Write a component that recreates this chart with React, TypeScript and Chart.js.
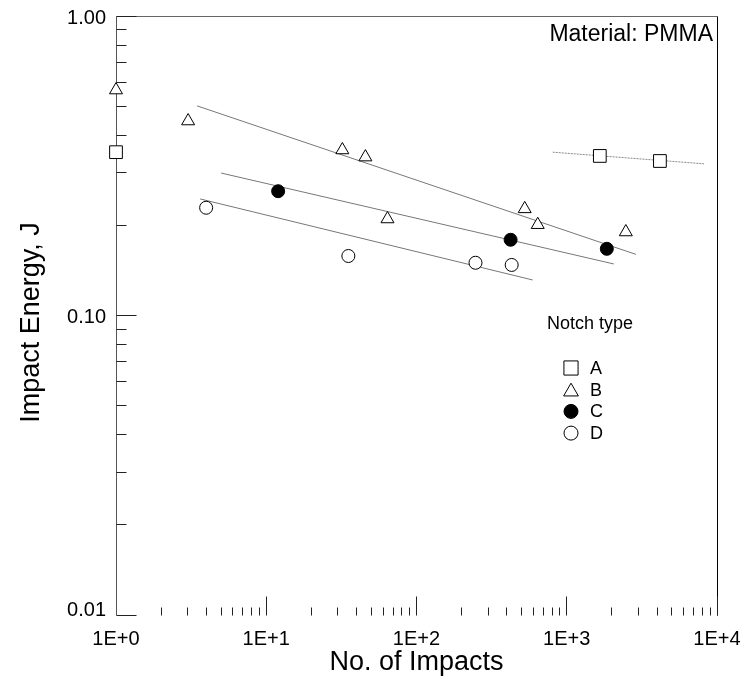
import { useEffect, useRef } from 'react';
import { Chart, registerables } from 'chart.js';

Chart.register(...registerables);

const FONT = '"Liberation Sans", Arial, Helvetica, sans-serif';

// ---- data ----
const notchAImpacts = [1, 1660, 4170];
const notchAEnergy = [0.351, 0.341, 0.328];

const notchBImpacts = [1, 3.02, 32.1, 45.7, 64.1, 525, 641, 2473];
const notchBEnergy = [0.566, 0.446, 0.357, 0.338, 0.21, 0.227, 0.201, 0.19];

const notchCImpacts = [12.0, 423, 1848];
const notchCEnergy = [0.26, 0.179, 0.167];

const notchDImpacts = [3.98, 35.2, 247, 430];
const notchDEnergy = [0.229, 0.158, 0.15, 0.1475];

// fitted trend lines (end points)
const fitAImpacts = [807, 8190];
const fitAEnergy = [0.351, 0.321];
const fitBImpacts = [3.47, 2884];
const fitBEnergy = [0.501, 0.16];
const fitCImpacts = [5.01, 2057];
const fitCEnergy = [0.299, 0.1486];
const fitDImpacts = [3.63, 593];
const fitDEnergy = [0.245, 0.1314];

// axis ticks
const xMajorValues = [1, 10, 100, 1000, 10000];
const xTickLabels = ['1E+0', '1E+1', '1E+2', '1E+3', '1E+4'];
const yMajorValues = [0.01, 0.1, 1];
const yTickLabels = ['0.01', '0.10', '1.00'];
const minorMultipliers = [2, 3, 4, 5, 6, 7, 8, 9];

const legendTitle = 'Notch type';
const legendLabels = ['A', 'B', 'C', 'D'];
const annotationText = 'Material: PMMA';
const xTitle = 'No. of Impacts';
const yTitle = 'Impact Energy, J';

function pts(xs: number[], ys: number[]) {
  return xs.map((x, i) => ({ x, y: ys[i] }));
}

function drawMarker(ctx: CanvasRenderingContext2D, style: string, x: number, y: number, r: number, fill: string) {
  ctx.beginPath();
  if (style === 'rect') {
    const s = Math.SQRT1_2 * r;
    ctx.rect(x - s, y - s, 2 * s, 2 * s);
  } else if (style === 'triangle') {
    let rad = 0;
    ctx.moveTo(x + Math.sin(rad) * r, y - Math.cos(rad) * r);
    rad += (2 * Math.PI) / 3;
    ctx.lineTo(x + Math.sin(rad) * r, y - Math.cos(rad) * r);
    rad += (2 * Math.PI) / 3;
    ctx.lineTo(x + Math.sin(rad) * r, y - Math.cos(rad) * r);
    ctx.closePath();
  } else {
    ctx.arc(x, y, r, 0, Math.PI * 2);
  }
  ctx.fillStyle = fill;
  ctx.fill();
  ctx.strokeStyle = '#000';
  ctx.lineWidth = 1;
  ctx.stroke();
}

const crisp = (v: number) => Math.floor(v) + 0.5;

const framePlugin = {
  id: 'pmmaFrame',
  beforeDatasetsDraw(chart: any) {
    const { ctx, chartArea, scales } = chart;
    const { left, top, right, bottom } = chartArea;
    const xs = scales.x;
    const ys = scales.y;
    const L = crisp(left);
    const R = crisp(right);
    const T = crisp(top);
    const B = crisp(bottom);
    ctx.save();
    ctx.lineWidth = 1;
    // top border
    ctx.strokeStyle = '#666';
    ctx.beginPath();
    ctx.moveTo(L, T);
    ctx.lineTo(R, T);
    ctx.stroke();
    // left axis
    ctx.strokeStyle = '#555';
    ctx.beginPath();
    ctx.moveTo(L, T);
    ctx.lineTo(L, B);
    ctx.stroke();
    // right border
    ctx.strokeStyle = '#000';
    ctx.beginPath();
    ctx.moveTo(R, T);
    ctx.lineTo(R, B);
    ctx.stroke();

    // y ticks (inward)
    ctx.strokeStyle = '#222';
    ctx.beginPath();
    yMajorValues.forEach((v, i) => {
      const py = crisp(ys.getPixelForValue(v));
      ctx.moveTo(L, py);
      ctx.lineTo(L + 20, py);
      if (i < yMajorValues.length - 1) {
        minorMultipliers.forEach((m) => {
          const pm = crisp(ys.getPixelForValue(v * m));
          ctx.moveTo(L, pm);
          ctx.lineTo(L + 10, pm);
        });
      }
    });
    ctx.stroke();

    // x ticks (upward from baseline)
    ctx.beginPath();
    xMajorValues.forEach((v, i) => {
      const px = crisp(xs.getPixelForValue(v));
      if (i > 0) {
        ctx.moveTo(px, B);
        ctx.lineTo(px, B - 19);
      }
      if (i < xMajorValues.length - 1) {
        minorMultipliers.forEach((m) => {
          const pm = crisp(xs.getPixelForValue(v * m));
          ctx.moveTo(pm, B);
          ctx.lineTo(pm, B - 8);
        });
      }
    });
    ctx.stroke();
    ctx.restore();
  },
  afterDraw(chart: any) {
    const { ctx, chartArea, scales } = chart;
    const { left, top, right, bottom } = chartArea;
    const xs = scales.x;
    const ys = scales.y;
    ctx.save();
    ctx.fillStyle = '#000';

    // y tick labels
    ctx.font = `20px ${FONT}`;
    ctx.textAlign = 'right';
    ctx.textBaseline = 'middle';
    yMajorValues.forEach((v, i) => {
      const py = ys.getPixelForValue(v);
      const off = i === 0 ? -5 : 2;
      ctx.fillText(yTickLabels[i], left - 10, py + off);
    });

    // x tick labels
    ctx.textAlign = 'center';
    xMajorValues.forEach((v, i) => {
      const px = xs.getPixelForValue(v);
      ctx.fillText(xTickLabels[i], px, bottom + 24);
    });

    // axis titles
    ctx.font = `27px ${FONT}`;
    ctx.textAlign = 'center';
    ctx.textBaseline = 'middle';
    ctx.fillText(xTitle, (left + right) / 2, bottom + 48);
    ctx.save();
    ctx.translate(left - 84, (top + bottom) / 2 + 7);
    ctx.rotate(-Math.PI / 2);
    ctx.fillText(yTitle, 0, 0);
    ctx.restore();

    // annotation
    ctx.font = `23px ${FONT}`;
    ctx.textAlign = 'right';
    ctx.textBaseline = 'alphabetic';
    ctx.fillText(annotationText, right - 4, top + 25);

    // legend
    const lx = 547;
    ctx.font = `18px ${FONT}`;
    ctx.textAlign = 'left';
    ctx.textBaseline = 'middle';
    ctx.fillText(legendTitle, lx, 324);
    const styles = chart.data.datasets.filter((d: any) => !d.showLine);
    styles.forEach((d: any, i: number) => {
      const cy = 368 + i * 21.7;
      const r = d.pointStyle === 'rect' ? 10 : d.pointStyle === 'triangle' ? 8.5 : 7;
      drawMarker(ctx, d.pointStyle, 571, cy + (d.pointStyle === 'triangle' ? 2 : 0), r, d.pointBackgroundColor);
      ctx.fillStyle = '#000';
      ctx.fillText(legendLabels[i], 590, cy + 1);
    });
    ctx.restore();
  },
};

export default function App() {
  const ref = useRef<HTMLCanvasElement | null>(null);

  useEffect(() => {
    if (!ref.current) return;
    const marker = (style: string, fill: string, r: number, xsArr: number[], ysArr: number[], label: string) => ({
      type: 'scatter' as const,
      label,
      data: pts(xsArr, ysArr),
      pointStyle: style,
      pointRadius: r,
      pointBackgroundColor: fill,
      pointBorderColor: '#000',
      pointBorderWidth: 1,
      showLine: false,
      clip: false as any,
      order: 0,
    });
    const fit = (xsArr: number[], ysArr: number[], dash: number[], color: string) => ({
      type: 'line' as const,
      label: '',
      data: pts(xsArr, ysArr),
      borderColor: color,
      borderWidth: 1,
      borderDash: dash,
      pointRadius: 0,
      showLine: true,
      fill: false,
      clip: false as any,
      order: 1,
    });
    const chart = new Chart(ref.current, {
      type: 'scatter',
      data: {
        datasets: [
          fit(fitAImpacts, fitAEnergy, [2, 1], '#888'),
          fit(fitBImpacts, fitBEnergy, [], '#777'),
          fit(fitCImpacts, fitCEnergy, [], '#777'),
          fit(fitDImpacts, fitDEnergy, [], '#777'),
          marker('rect', '#fff', 9, notchAImpacts, notchAEnergy, 'A'),
          marker('triangle', '#fff', 7.5, notchBImpacts, notchBEnergy, 'B'),
          marker('circle', '#000', 6.5, notchCImpacts, notchCEnergy, 'C'),
          marker('circle', '#fff', 6.5, notchDImpacts, notchDEnergy, 'D'),
        ] as any,
      },
      options: {
        animation: false,
        responsive: false,
        maintainAspectRatio: false,
        devicePixelRatio: 1,
        layout: { padding: { left: 116, top: 16, right: 29, bottom: 72 } },
        plugins: { legend: { display: false }, tooltip: { enabled: false } },
        elements: { line: { tension: 0 } },
        scales: {
          x: { type: 'logarithmic', min: 1, max: 10000, display: false },
          y: { type: 'logarithmic', min: 0.01, max: 1, display: false },
        },
      },
      plugins: [framePlugin],
    });
    return () => chart.destroy();
  }, []);

  return (
    <div style={{ position: 'fixed', left: 0, top: 0, width: 746, height: 687, background: '#fff' }}>
      <canvas ref={ref} width={746} height={687} style={{ display: 'block', width: 746, height: 687 }} />
    </div>
  );
}
